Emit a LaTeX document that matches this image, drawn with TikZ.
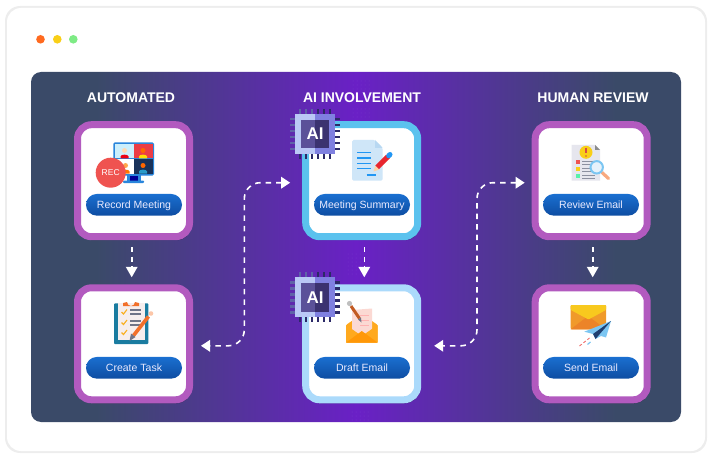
\documentclass[tikz,border=0pt]{standalone}
\usepackage{fontspec}
\setmainfont{Liberation Sans}
\usetikzlibrary{arrows.meta,shadows,calc}
\definecolor{panelbase}{HTML}{3A4A68}
\definecolor{panelmid}{HTML}{6A20C6}
\definecolor{cardpurple}{HTML}{B25ABF}
\definecolor{cardblue}{HTML}{5BC2EE}
\definecolor{cardpale}{HTML}{ABDAFB}
\definecolor{btntop}{HTML}{1A6FD0}
\definecolor{btnbot}{HTML}{0E4DA2}
\definecolor{screenblue}{HTML}{2A86DC}
\definecolor{pinlight}{HTML}{5F62A8}
\definecolor{pindark}{HTML}{2C2A68}
\definecolor{chipa}{HTML}{BAC8F6}
\definecolor{chipb}{HTML}{7F80E0}
\definecolor{chipc}{HTML}{5B5199}
\definecolor{chipd}{HTML}{3B3270}
\definecolor{recred}{HTML}{EF5350}
\definecolor{dotorange}{HTML}{FF6A1F}
\definecolor{dotyellow}{HTML}{F9CF17}
\definecolor{dotgreen}{HTML}{7EEB85}
\definecolor{boardteal}{HTML}{1A7CA0}
\definecolor{paperpink}{HTML}{F6EEEE}
\definecolor{pencilorange}{HTML}{F2702A}
\definecolor{checkyellow}{HTML}{F9B020}
\definecolor{linegrey}{HTML}{6F7488}
\definecolor{docblue}{HTML}{CFE6F8}
\definecolor{docfold}{HTML}{B8D8F2}
\definecolor{docline}{HTML}{2196F3}
\definecolor{pencilred}{HTML}{E8262F}
\definecolor{envorange}{HTML}{FFA91E}
\definecolor{envdark}{HTML}{FF9808}
\definecolor{letterpink}{HTML}{FBD9D3}
\definecolor{revgrey}{HTML}{E6E6EE}
\definecolor{envyellow}{HTML}{F8C91E}
\definecolor{envbody}{HTML}{F09A2A}
\definecolor{envfold}{HTML}{EC8428}
\definecolor{planelight}{HTML}{7CC6F2}
\definecolor{planedark}{HTML}{1F3F70}
\pgfdeclarehorizontalshading{panelshade}{100bp}{
  color(0bp)=(panelbase); color(30bp)=(panelbase); color(50bp)=(panelmid);
  color(70bp)=(panelbase); color(100bp)=(panelbase)}
\tikzset{
  flowcard/.style={draw=#1,line width=7pt,fill=white,rounded corners=14pt,
    minimum width=112pt,minimum height=112pt,inner sep=0pt,
    drop shadow={shadow xshift=1.5pt,shadow yshift=-3.5pt,opacity=.35,fill=black}},
  flowbtn/.style={rounded corners=10.8pt,top color=btntop,bottom color=btnbot,
    minimum width=96pt,minimum height=21.7pt,inner sep=0pt,text=white!92!blue,
    text height=7.5pt,text depth=0pt,font=\fontsize{10.5}{12}\selectfont},
  flowhead/.style={text=white,font=\bfseries\fontsize{14}{16}\selectfont,inner sep=0pt},
  flowstep/.style={white,line width=1.6pt,dash pattern=on 5pt off 4.5pt,-{Triangle[length=10.5pt,width=11.5pt]}},
  flowlink/.style={white,line width=1.6pt,dash pattern=on 5.5pt off 5pt,rounded corners=16pt,
    {Triangle[length=9pt,width=11.5pt]}-{Triangle[length=9pt,width=11.5pt]}},
  aichip/.pic={
    \foreach \k in {-15,-9,...,15} {
      \fill[pinlight] (-25,\k-1.2) rectangle (-20,\k+1.2);
      \fill[pindark] (20,\k-1.2) rectangle (25,\k+1.2);
      \fill[pindark] (\k-1.2,20) rectangle (\k+1.2,25);
    }
    \foreach \k in {-15,-9,-3} \fill[pinlight] (\k-1.2,-25) rectangle (\k+1.2,-20);
    \foreach \k in {3,9,15} \fill[pindark] (\k-1.2,-25) rectangle (\k+1.2,-20);
    \fill[chipa] (-20,-20) rectangle (0,20);
    \fill[chipb] (0,-20) rectangle (20,20);
    \fill[chipc] (-14,-14) rectangle (0,14.3);
    \fill[chipd] (0,-14) rectangle (14.3,14.3);
    \node[text=white,font=\bfseries\fontsize{17}{17}\selectfont,inner sep=0pt] (-label) at (0,0) {AI};
  }
}
\newcommand{\meetperson}[4]{
  \fill[#4] (#1-4,#2+8) -- (#1-4,#2+6) .. controls (#1-3.5,#2+3.5) and (#1+3.5,#2+3.5) .. (#1+4,#2+6) -- (#1+4,#2+8) -- cycle;
  \fill[#3] (#1,#2) circle (2.5);
}
\begin{document}
\begin{tikzpicture}[x=1pt,y=-1pt]
	\useasboundingbox (0,0) rectangle (716,460);
	% window
	\fill[black!7,rounded corners=15pt] (5,6) rectangle (707,453);
	\fill[white,rounded corners=14pt] (7,8) rectangle (705,451);
	\fill[dotorange] (40.5,39.3) circle (4.3);
	\fill[dotyellow] (57.3,39.3) circle (4.3);
	\fill[dotgreen] (73.3,39.3) circle (4.3);
	\shade[shading=panelshade,rounded corners=10pt] (31,72) rectangle (681,422);
	% dots behind the middle column
	\foreach \cx/\cy in {361/85,361/113,356/258,356/270,360/416} {
		\foreach \dx in {-8,-4,...,8} \foreach \dy in {-4,0,4}
			\fill[white,opacity=.1] (\cx+\dx,\cy+\dy) circle (.5);
	}
	% headings
	\node[flowhead] (headauto) at (131,97.5) {AUTOMATED};
	\node[flowhead] (headai) at (362,97.5) {AI INVOLVEMENT};
	\node[flowhead] (headhuman) at (593,97.5) {HUMAN REVIEW};
	% cards
	\node[flowcard=cardpurple] (record) at (133.5,180.7) {};
	\node[flowcard=cardpurple] (task) at (133.5,343.8) {};
	\node[flowcard=cardblue] (summary) at (361.7,180.7) {};
	\node[flowcard=cardpale] (draft) at (361.7,343.8) {};
	\node[flowcard=cardpurple] (review) at (591.2,180.7) {};
	\node[flowcard=cardpurple] (send) at (591.2,343.8) {};
	% buttons
	\node[flowbtn] (btnrecord) at (134,204.8) {Record Meeting};
	\node[flowbtn] (btntask) at (134,367.8) {Create Task};
	\node[flowbtn] (btnsummary) at (362,204.8) {Meeting Summary};
	\node[flowbtn] (btndraft) at (362,367.8) {Draft Email};
	\node[flowbtn] (btnreview) at (591,204.8) {Review Email};
	\node[flowbtn] (btnsend) at (591,367.8) {Send Email};
	% monitor
	\fill[screenblue,rounded corners=1.5pt] (113.3,142.3) rectangle (154,175.5);
	\fill[screenblue] (126.5,175) rectangle (141,181);
	\fill[blue!60!black] (130,175.5) rectangle (138,181);
	\fill[screenblue,rounded corners=.8pt] (123,180.7) rectangle (144,183);
	\fill[cyan!20!white] (115,144) rectangle (133.7,158.5);
	\fill[pencilred!85!pink] (134.3,144) rectangle (152.5,158.5);
	\fill[white] (115,159) rectangle (133.7,174);
	\fill[planedark!80!black] (134.3,159) rectangle (152.5,174);
	\meetperson{124.5}{150.5}{orange!30!white}{red!70!purple}
	\meetperson{143}{150.5}{orange!80!red}{yellow!80!orange}
	\meetperson{125.5}{165.5}{orange!70!white}{orange!90!red}
	\meetperson{143}{165.5}{orange!80!red}{cyan!60!teal}
	\fill[recred] (110.7,172.7) circle (15);
	\node[text=white,font=\fontsize{8.5}{8.5}\selectfont,inner sep=0pt] (rectext) at (110.7,172.7) {REC};
	% clipboard
	\fill[boardteal,rounded corners=1pt] (114,303.3) rectangle (148.3,344);
	\fill[paperpink] (118,303.3) rectangle (144.5,340);
	\fill[pencilorange] (123,306) -- (123,303) -- (127,302) arc (180:0:4) -- (139,303) -- (139,306) -- cycle;
	\foreach \ty in {312,322.5,332.5} {
		\draw[checkyellow,line width=1.1pt] (121.5,\ty) -- (123.5,\ty+2) -- (127,\ty-2.5);
	}
	\foreach \ty in {310,314,321,325}
		\draw[linegrey,line width=1.1pt] (130,\ty) -- (141,\ty);
	\draw[pencilorange,line width=3.6pt] (133.5,335.5) -- (148.5,316.5);
	\fill[letterpink!80!orange] (151,313.5) circle (2.3);
	\fill[linegrey] (129.5,341) -- (131,333.5) -- (135.5,337) -- cycle;
	% summary document
	\fill[docblue,rounded corners=1.5pt] (352,140) -- (375,140) -- (382.7,148) -- (382.7,180.7) -- (352,180.7) -- cycle;
	\fill[docfold] (375,140) -- (382.7,148) -- (375,148) -- cycle;
	\foreach \ty in {152.7,158,163.3,168.3}
		\draw[docline,line width=1.2pt] (357.3,\ty) -- (370.7,\ty);
	\draw[docline,line width=1.2pt] (366.7,175) -- (376,175);
	\draw[pencilred,line width=5pt] (377,167.5) -- (388,156.5);
	\draw[docline,line width=5pt,line cap=round] (388.7,155.8) -- (390,154.5);
	\fill[orange!35!white] (373.5,171.5) -- (375.2,165.7) -- (379.2,169.7) -- cycle;
	% draft envelope
	\fill[envorange,rounded corners=1pt] (346,325) -- (361.8,314) -- (377.7,325) -- (377.7,342.7) -- (346,342.7) -- cycle;
	\fill[letterpink] (352,310) -- (372,308.5) -- (372,331) -- (361.8,337) -- (352,331) -- cycle;
	\foreach \ty in {315,320,325}
		\draw[red!30!white,line width=.8pt] (360,\ty) -- (369,\ty);
	\fill[envorange] (346,325) -- (361.8,336) -- (377.7,325) -- (377.7,342.7) -- (346,342.7) -- cycle;
	\fill[envdark] (346,342.7) -- (361.8,331) -- (377.7,342.7) -- cycle;
	\draw[pencilorange!80!black,line width=3pt] (351,306) -- (359.5,318.5);
	\fill[linegrey] (361.5,322.5) -- (358,319.5) -- (361,317.5) -- cycle;
	\fill[black!25] (349.5,303.5) circle (2.6);
	% review document
	\fill[revgrey] (571.7,145) -- (595,145) -- (600,150) -- (600,180.7) -- (571.7,180.7) -- cycle;
	\fill[black!45] (595,145) -- (600,150) -- (595,150) -- cycle;
	\fill[dotyellow] (586,152.3) circle (6.5);
	\draw[recred!90!black,line width=1.3pt] (586,148) -- (586,153.5);
	\fill[recred!90!black] (586,156) circle (.8);
	\fill[recred] (575.7,160.5) rectangle (580,164.5);
	\fill[dotyellow] (575.7,167) rectangle (580,171);
	\fill[dotgreen!70!cyan] (575.7,174) rectangle (580,178);
	\foreach \ty in {161,164,168,171,175,178}
		\draw[linegrey!80,line width=.9pt] (582,\ty) -- (595,\ty);
	\draw[pencilorange!60!white,line width=3.2pt,line cap=round] (602,172.5) -- (608.5,178.5);
	\draw[planelight,line width=2pt,fill=docblue!50!white] (596.7,167.3) circle (6.2);
	% send envelope
	\fill[envbody,rounded corners=1pt] (570.7,305) rectangle (606,329.3);
	\fill[envfold] (570.7,329.3) -- (588,316) -- (606,329.3) -- cycle;
	\fill[envyellow,rounded corners=1pt] (570.7,305) -- (606,305) -- (606,310) -- (588.5,319.5) -- (570.7,310) -- cycle;
	\fill[planelight] (611,321) -- (584.3,331.7) -- (593,334) -- (595.5,339) -- (601,336) -- (606,337.5) -- cycle;
	\fill[planedark] (611,321) -- (593,334) -- (595.5,339) -- cycle;
	\draw[recred!80!white,line width=.9pt,densely dashed] (579.5,346) -- (589.5,338);
	\draw[planelight,line width=1.2pt] (587.5,344.5) -- (590.5,342);
	% AI chips
	\pic (chipsummary) at (315,134) {aichip};
	\pic (chipdraft) at (315,297.3) {aichip};
	% connectors
	\coordinate (linkleft) at (244.3,264);
	\coordinate (linkright) at (477,264);
	\draw[flowstep,shorten <=7pt,shorten >=7pt] ([xshift=-1.8pt]record.south) -- ([xshift=-1.8pt]task.north);
	\draw[flowstep,shorten <=7pt,shorten >=7pt] ([xshift=2.6pt]summary.south) -- ([xshift=2.6pt]draft.north);
	\draw[flowstep,shorten <=7pt,shorten >=7pt] ([xshift=1.5pt]review.south) -- ([xshift=1.5pt]send.north);
	\draw[flowlink,shorten <=12pt,shorten >=8pt] ([yshift=-2pt]summary.west) -| (linkleft) |- ([yshift=-2pt]task.east);
	\draw[flowlink,shorten <=7pt,shorten >=13pt] ([yshift=-2pt]review.west) -| (linkright) |- ([yshift=-2pt]draft.east);
\end{tikzpicture}
\end{document}
